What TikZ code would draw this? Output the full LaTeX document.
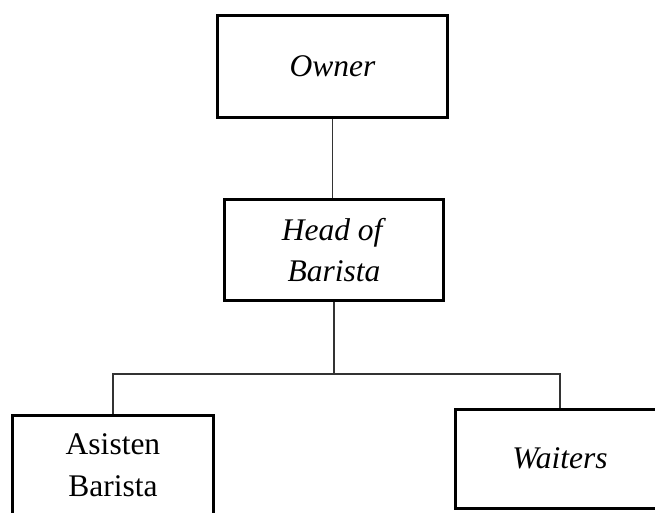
\documentclass[tikz,border=0pt]{standalone}
\usepackage{fontspec}
\setmainfont{Liberation Serif}
\usetikzlibrary{shadows}
\begin{document}
\begin{tikzpicture}[x=0.4pt,y=-0.4pt,
        box/.style={draw, fill=white, line width=1.2pt, align=center, inner sep=0pt,
            font=\fontsize{12.6}{16.6}\selectfont,
            drop shadow={shadow xshift=0.5pt, shadow yshift=-0.5pt, opacity=1, fill=black}},
        link/.style={draw, line width=0.55pt, black!80}]
        \useasboundingbox (0,0) rectangle (655,513);
        \node [box, minimum width=91.6pt, minimum height=40.4pt] (owner) at (332.5,66.5) {\textit{Owner}};
        \node [box, minimum width=87.2pt, minimum height=40pt] (head) at (334,250) {\textit{Head of}\\\textit{Barista}};
        \node [box, minimum width=80pt, minimum height=40pt] (asisten) at (113,465) {Asisten\\Barista};
        \node [box, minimum width=83.2pt, minimum height=39.6pt] (waiters) at (560,458.5) {\textit{Waiters}};
        \coordinate (split) at (334,374);
        \draw [link] (owner.south) -- (owner.south |- head.north);
        \draw [link] (head.south) -- (split);
        \draw [link] (asisten.north) |- (split) -| (waiters.north);
    \end{tikzpicture}
\end{document}
